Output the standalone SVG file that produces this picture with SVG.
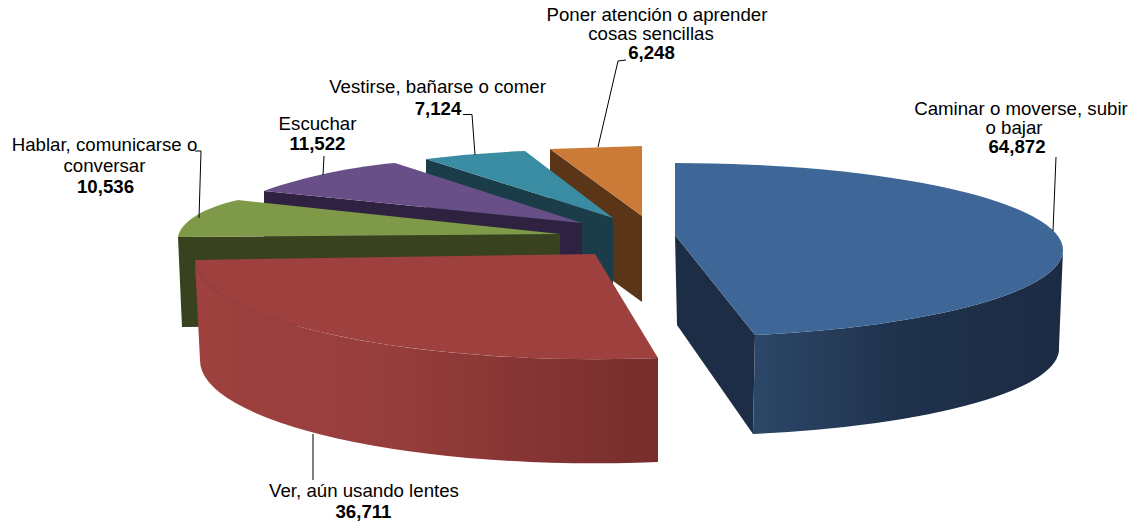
<svg xmlns="http://www.w3.org/2000/svg" width="1134" height="523" viewBox="0 0 1134 523">
<style>
  .lbl{font-family:"Liberation Sans",Arial,sans-serif;font-size:18.67px;fill:#000;text-anchor:middle}
  .val{font-weight:bold}
  .lead{fill:none;stroke:#000;stroke-width:1}
</style>
<defs>
  <linearGradient id="gBlue" gradientUnits="userSpaceOnUse" x1="753" y1="0" x2="1063" y2="0">
    <stop offset="0" stop-color="#2c4768"/>
    <stop offset="0.5" stop-color="#1f314b"/>
    <stop offset="1" stop-color="#1c2b43"/>
  </linearGradient>
  <linearGradient id="gRed" gradientUnits="userSpaceOnUse" x1="195" y1="0" x2="658" y2="0">
    <stop offset="0" stop-color="#9e413f"/>
    <stop offset="0.4" stop-color="#973e3c"/>
    <stop offset="1" stop-color="#762d2c"/>
  </linearGradient>
</defs>
<rect width="1134" height="523" fill="#fff"/>

<g id="slice-poner">
  <path d="M550,149 L642,216 L642,302 L550,235 Z" fill="#5b3517"/>
  <path d="M642,216 L550,149 L642,146 Z" fill="#cc7a37"/>
</g>
<g id="slice-vestirse">
  <path d="M426,159 L613,218 L613,285 L426,226 Z" fill="#1b3d49"/>
  <path d="M613,218 L426,159 Q475,153 525,151 Z" fill="#3a8ca2"/>
</g>
<g id="slice-escuchar">
  <path d="M264,191 L582,223 L582,290 L264,258 Z" fill="#2e2240"/>
  <path d="M582,223 L264,191 C290,181 345,167 395,163 Z" fill="#694f88"/>
</g>
<g id="slice-hablar">
  <path d="M178,237 L560,234 L560,324 L182,327 Z" fill="#38421f"/>
  <path d="M560,234 L178,237 C180,222 205,207 238,200 Z" fill="#7e9a48"/>
</g>
<g id="slice-ver">
  <path d="M195,262 A400,100 0 0 0 658,358 L658,462 A395,103 0 0 1 200,360 Z" fill="url(#gRed)"/>
  <path d="M595,254 L195,260 A400,100 0 0 0 658,358 Z" fill="#9d403e"/>
</g>
<g id="slice-caminar">
  <path d="M675,235 L755,335 L753,434 L677,325 Z" fill="#1d2d45"/>
  <path d="M755,335 A388,87 0 0 0 1063,250 L1059,347 A384,87 0 0 1 753,434 Z" fill="url(#gBlue)"/>
  <path d="M675,163 A388,87 0 0 1 1063,250 A388,87 0 0 1 755,335 L675,235 Z" fill="#3e6797"/>
</g>

<g id="connectors">
  <path class="lead" d="M1056,157 L1053,231"/>
  <path class="lead" d="M195,151 L201,151 L199,218"/>
  <path class="lead" d="M324,156 L323,175"/>
  <path class="lead" d="M463,114.5 L472,114.5 L475,155"/>
  <path class="lead" d="M626,60 L618,61 L598,147"/>
  <path class="lead" d="M313,434 L313,480"/>
</g>

<g id="labels">
  <text class="lbl" x="1021" y="115">Caminar o moverse, subir</text>
  <text class="lbl" x="1014" y="134">o bajar</text>
  <text class="lbl val" x="1017" y="153">64,872</text>

  <text class="lbl" x="104.5" y="151">Hablar, comunicarse o</text>
  <text class="lbl" x="104.5" y="172">conversar</text>
  <text class="lbl val" x="105.5" y="193">10,536</text>

  <text class="lbl" x="317.5" y="130">Escuchar</text>
  <text class="lbl val" x="317.5" y="150">11,522</text>

  <text class="lbl" x="437.5" y="93">Vestirse, bañarse o comer</text>
  <text class="lbl val" x="438" y="115">7,124</text>

  <text class="lbl" x="657" y="21">Poner atención o aprender</text>
  <text class="lbl" x="651" y="40">cosas sencillas</text>
  <text class="lbl val" x="651.5" y="59">6,248</text>

  <text class="lbl" x="364" y="497">Ver, aún usando lentes</text>
  <text class="lbl val" x="363.5" y="518">36,711</text>
</g>
</svg>
